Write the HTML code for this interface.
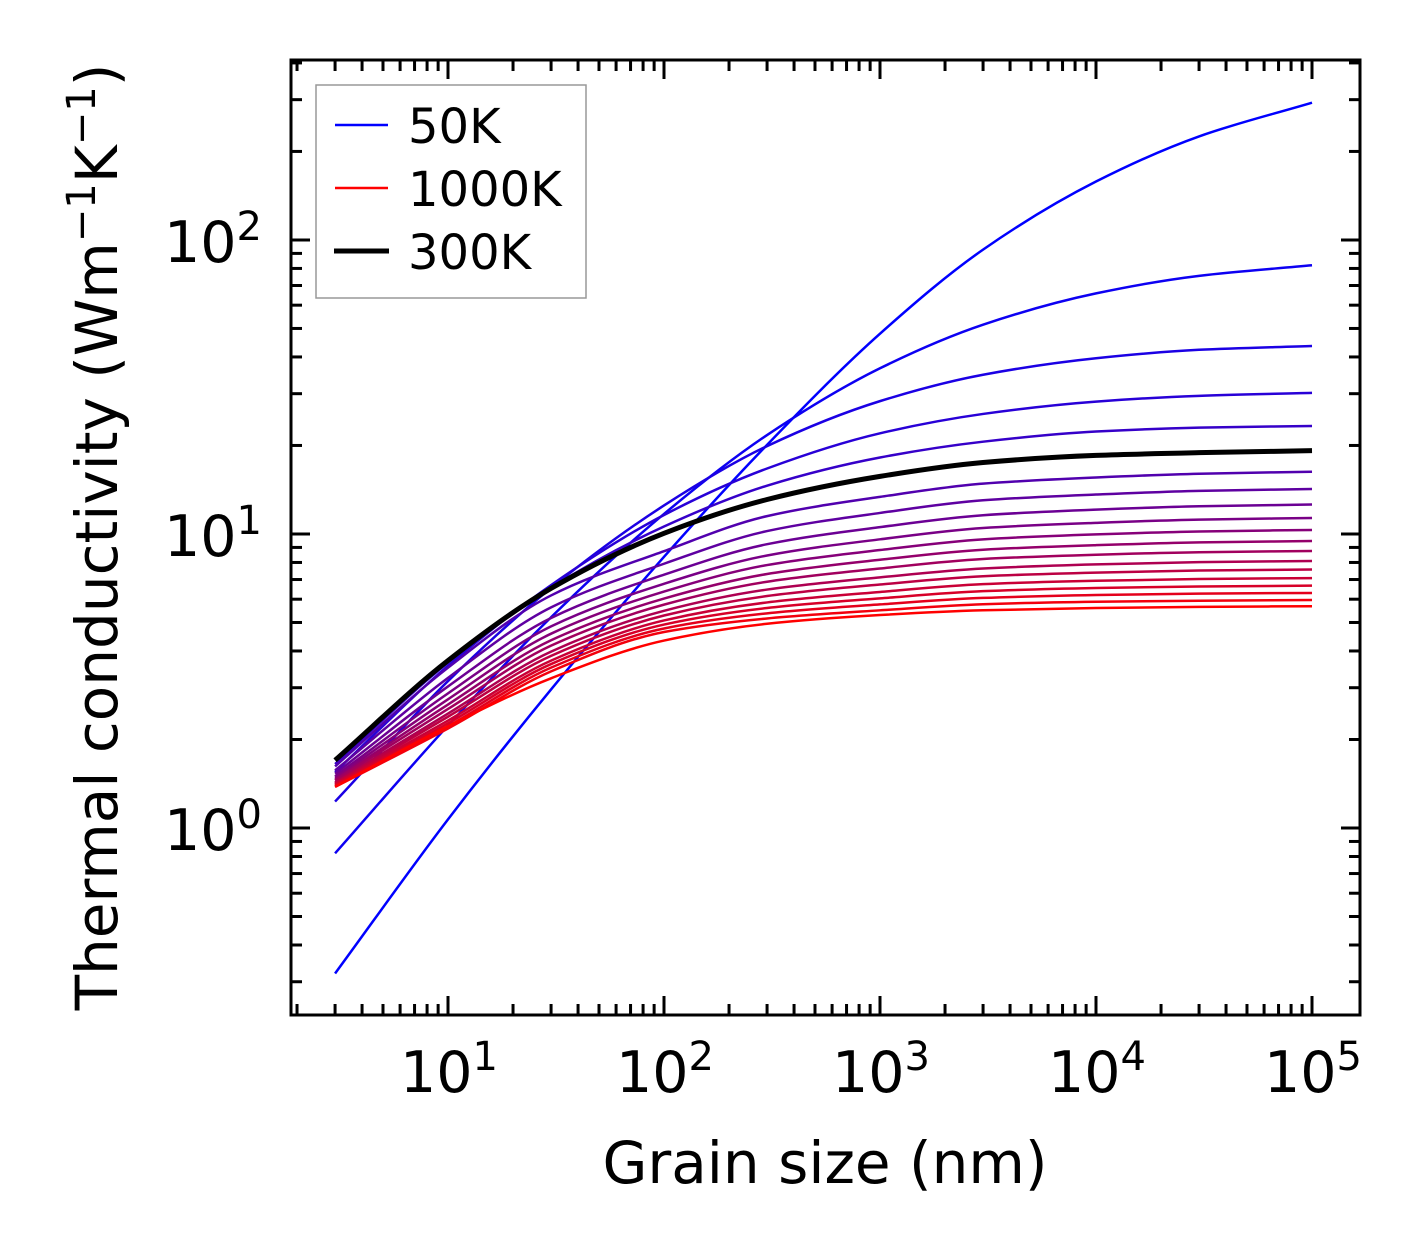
<!DOCTYPE html>
<html><head><meta charset="utf-8"><style>
html,body{margin:0;padding:0;background:#fff;}
svg{display:block;font-family:"DejaVu Sans","Liberation Sans",sans-serif;}
</style></head><body>
<svg id="chart" width="1421" height="1254" viewBox="0 0 1421 1254" xmlns="http://www.w3.org/2000/svg">
<rect x="0" y="0" width="1421" height="1254" fill="#fff"/>
<g id="ticks"></g>
<g id="curves"></g>
<rect x="291" y="60" width="1069" height="955" fill="none" stroke="#000" stroke-width="3"/>
<g id="xlabels"></g>
<g id="ylabels"></g>
<text x="825" y="1183" font-size="58" text-anchor="middle">Grain size (nm)</text>
<text transform="translate(117,537) rotate(-90)" font-size="58" text-anchor="middle">Thermal conductivity (Wm<tspan dy="-22" font-size="40">−1</tspan><tspan dy="22">K</tspan><tspan dy="-22" font-size="40">−1</tspan><tspan dy="22">)</tspan></text>
<g>
<rect x="316" y="85" width="270" height="213" fill="#fff" stroke="#999" stroke-width="1.5"/>
<line x1="335" y1="125" x2="388" y2="125" stroke="#0000ff" stroke-width="2.5"/>
<text x="408" y="143" font-size="48">50K</text>
<line x1="335" y1="188" x2="388" y2="188" stroke="#ff0000" stroke-width="2.5"/>
<text x="408" y="206" font-size="48">1000K</text>
<line x1="334" y1="251" x2="389" y2="251" stroke="#000" stroke-width="5"/>
<text x="408" y="269" font-size="48">300K</text>
</g>
</svg>
<script>
const grainSizes = [3,10,30,100,300,1000,3000,10000,30000,100000];
const temperatures = [50,100,150,200,250,300,350,400,450,500,550,600,650,700,750,800,850,900,950,1000];
const k50 = [0.32,1.07,2.96,8.36,20.1,48,92.7,158,225,293];
const k100 = [0.82,2.23,5.21,11.7,21.7,36.6,51.5,65.8,75.5,82.0];
const k150 = [1.23,3.16,6.55,12.5,19.9,28.3,34.8,39.6,42.3,43.6];
const k200 = [1.55,3.56,6.70,11.6,16.7,22.0,25.6,28.2,29.5,30.2];
const k250 = [1.65,3.65,6.56,10.6,14.6,18.2,20.6,22.3,23.0,23.3];
const k300 = [1.70,3.71,6.53,10.05,13.1,15.7,17.5,18.5,18.9,19.2];
const k350 = [1.62,3.51,6.18,8.74,11.50,13.37,14.83,15.56,16.03,16.28];
const k400 = [1.57,3.24,5.63,7.92,10.23,11.79,13.02,13.62,14.02,14.22];
const k450 = [1.53,3.03,5.18,7.27,9.23,10.55,11.58,12.10,12.42,12.59];
const k500 = [1.50,2.87,4.85,6.77,8.45,9.59,10.48,10.91,11.19,11.33];
const k550 = [1.48,2.74,4.58,6.37,7.84,8.82,9.59,9.97,10.20,10.32];
const k600 = [1.46,2.63,4.35,6.03,7.31,8.17,8.84,9.16,9.36,9.46];
const k650 = [1.45,2.54,4.17,5.75,6.88,7.63,8.22,8.50,8.67,8.75];
const k700 = [1.43,2.45,3.98,5.48,6.47,7.12,7.63,7.88,8.02,8.09];
const k750 = [1.42,2.39,3.85,5.28,6.15,6.73,7.18,7.39,7.51,7.57];
const k800 = [1.41,2.32,3.71,5.08,5.85,6.35,6.75,6.93,7.03,7.08];
const k850 = [1.40,2.27,3.61,4.92,5.60,6.04,6.39,6.55,6.63,6.67];
const k900 = [1.39,2.22,3.51,4.77,5.37,5.76,6.06,6.20,6.27,6.30];
const k950 = [1.38,2.18,3.41,4.64,5.16,5.50,5.77,5.88,5.93,5.96];
const k1000 = [1.38,2.22,3.23,4.34,4.95,5.30,5.50,5.60,5.65,5.68];
const series = [k50,k100,k150,k200,k250,k300,k350,k400,k450,k500,k550,k600,k650,k700,k750,k800,k850,k900,k950,k1000];
const xTickExps = [1,2,3,4,5];
const yTickExps = [0,1,2];

const NS = "http://www.w3.org/2000/svg";
const X0 = 291, X1 = 1360, Y0 = 60, Y1 = 1015;
const xLogMin = 0.2731, xLogMax = 5.2222;
const yLogMin = -0.636, yLogMax = 2.612;
function xs(v){ return X0 + (Math.log10(v) - xLogMin) / (xLogMax - xLogMin) * (X1 - X0); }
function ys(v){ return Y1 - (Math.log10(v) - yLogMin) / (yLogMax - yLogMin) * (Y1 - Y0); }
function mk(tag, attrs, parent){ const e = document.createElementNS(NS, tag); for (const k in attrs) e.setAttribute(k, attrs[k]); parent.appendChild(e); return e; }

function pathFor(vals){
  const X = grainSizes.map(g=>xs(g)), Y = vals.map(v=>ys(v));
  const n = X.length, d = [], m = new Array(n);
  for (let i=0;i<n-1;i++) d.push((Y[i+1]-Y[i])/(X[i+1]-X[i]));
  m[0]=d[0]; m[n-1]=d[n-2];
  for (let i=1;i<n-1;i++){
    if (d[i-1]*d[i] <= 0) m[i]=0;
    else { const h0=X[i]-X[i-1], h1=X[i+1]-X[i]; const w1=2*h1+h0, w2=h1+2*h0; m[i]=(w1+w2)/(w1/d[i-1]+w2/d[i]); }
  }
  let s = "M" + X[0].toFixed(2) + "," + Y[0].toFixed(2);
  for (let i=0;i<n-1;i++){
    const h = X[i+1]-X[i];
    s += " C" + (X[i]+h/3).toFixed(2)+","+(Y[i]+m[i]*h/3).toFixed(2)+" "+(X[i+1]-h/3).toFixed(2)+","+(Y[i+1]-m[i+1]*h/3).toFixed(2)+" "+X[i+1].toFixed(2)+","+Y[i+1].toFixed(2);
  }
  return s;
}

const curves = document.getElementById("curves");
let blackPath = null;
series.forEach((vals, i) => {
  const T = temperatures[i];
  const w = (T - 50) / 950;
  const col = T === 300 ? "#000" : "rgb(" + Math.round(255*w) + ",0," + Math.round(255*(1-w)) + ")";
  const p = document.createElementNS(NS, "path");
  p.setAttribute("d", pathFor(vals));
  p.setAttribute("fill", "none");
  p.setAttribute("stroke", col);
  p.setAttribute("stroke-width", T === 300 ? 5 : 2.5);
  
  
  if (T === 300) blackPath = p; else curves.appendChild(p);
});
if (blackPath) curves.appendChild(blackPath);

const ticks = document.getElementById("ticks");
function tick(x1,y1,x2,y2,name){
  const l = mk("line",{x1:x1,y1:y1,x2:x2,y2:y2,stroke:"#000","stroke-width":3}, ticks);
  
  
}
for (let e=0;e<=5;e++){
  for (let m=1;m<=9;m++){
    const v = m*Math.pow(10,e);
    const x = xs(v);
    if (x < X0+1 || x > X1-1) continue;
    const L = m===1 ? 19 : 11;
    tick(x, Y1, x, Y1-L, "x-tick");
    tick(x, Y0, x, Y0+L, "x-tick-top");
  }
}
for (let e=-1;e<=2;e++){
  for (let m=1;m<=9;m++){
    const v = m*Math.pow(10,e);
    const y = ys(v);
    if (y < Y0+1 || y > Y1-1) continue;
    const L = m===1 ? 19 : 11;
    tick(X0, y, X0+L, y, "y-tick");
    tick(X1, y, X1-L, y, "y-tick-right");
  }
}
const xl = document.getElementById("xlabels");
xTickExps.forEach(e => {
  const t = mk("text",{x:xs(Math.pow(10,e))+1, y:1092, "font-size":57, "text-anchor":"middle"}, xl);
  
  
  t.innerHTML = '10<tspan dy="-22" font-size="40">' + e + '</tspan>';
});
const yl = document.getElementById("ylabels");
yTickExps.forEach(e => {
  const t = mk("text",{x:262, y:ys(Math.pow(10,e))+22, "font-size":57, "text-anchor":"end"}, yl);
  
  
  t.innerHTML = '10<tspan dy="-22" font-size="40">' + e + '</tspan>';
});
</script>
</body></html>
